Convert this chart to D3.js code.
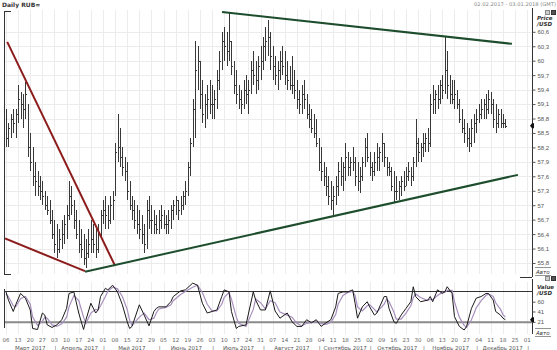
<!DOCTYPE html>
<html>
<head>
<meta charset="utf-8">
<script src="https://cdn.jsdelivr.net/npm/d3@7"></script>
<style>
  body { margin: 0; background: #fff; }
  svg { display: block; font-family: "DejaVu Sans", sans-serif; }
</style>
</head>
<body>
<svg id="chart" width="557" height="350"></svg>
<script>
// daily bars, 6 Mar 2017 .. 19 Dec 2017 (trading days)
const highs = [
  59.0,58.7,58.9,59.0,59.0, 59.5,59.35,59.3,59.55,59.1, 58.5,58.2,57.9,57.7,57.6, 57.5,57.3,57.2,57.1,56.9,
  56.7,56.6,56.5,56.7,56.8, 57.0,57.5,57.4,57.1,56.9, 56.7,56.5,56.4,56.3,56.5, 56.7,56.6,56.5,56.6,56.9,
  57.1,57.2,57.0,57.2,57.3, 58.3,58.9,58.6,58.2,58.0, 57.9,57.5,57.2,57.1,57.0, 56.9,56.8,56.6,57.1,57.2,
  57.0,56.9,56.8,56.9,57.0, 56.9,56.8,56.9,57.0,57.1, 57.2,57.1,57.2,57.3,57.5, 57.9,58.4,59.2,60.4,60.3,
  60.0,59.6,59.3,59.5,59.6, 59.5,59.4,59.8,60.2,60.6, 60.7,60.6,61.0,60.4,60.0, 59.8,59.5,59.4,59.6,59.7,
  59.6,60.0,60.2,60.0,60.1, 60.3,60.5,60.7,60.85,60.6, 60.3,60.1,60.0,60.2,60.3, 60.2,60.0,59.9,60.1,59.8,
  59.6,59.4,59.5,59.6,59.3, 59.1,59.0,58.9,58.8,58.4, 58.2,57.9,57.8,57.6,57.5, 57.4,57.6,57.9,58.0,57.9,
  58.3,58.1,58.0,58.2,58.0, 57.9,57.8,58.0,58.4,58.5, 58.1,57.9,58.1,58.3,58.2, 58.5,58.3,58.0,57.9,57.8,
  57.7,57.6,57.5,57.6,57.7, 57.8,57.9,57.8,58.0,58.8, 58.4,58.3,58.5,58.5,58.6, 59.3,59.5,59.4,59.5,59.6,
  59.7,60.5,60.2,59.7,59.6, 59.6,59.4,59.2,59.0,58.8, 58.7,58.6,58.8,58.9,59.0, 59.1,59.2,59.2,59.3,59.4,
  59.35,59.2,59.1,59.0,59.0, 58.9,58.8
];
const lows = [
  58.2,58.2,58.4,58.5,58.4, 58.7,58.8,58.6,58.8,58.0, 57.7,57.4,57.2,57.2,57.1, 57.0,56.9,56.8,56.6,56.3,
  56.0,55.9,56.0,56.1,56.2, 56.3,56.7,56.8,56.5,56.3, 56.0,55.9,55.75,55.7,55.9, 56.0,56.0,55.9,56.0,56.3,
  56.6,56.5,56.5,56.6,56.7, 57.2,57.9,57.8,57.6,57.5, 57.1,56.9,56.7,56.5,56.4, 56.3,56.2,56.0,56.1,56.5,
  56.4,56.4,56.4,56.4,56.5, 56.5,56.4,56.4,56.5,56.7, 56.8,56.7,56.8,56.9,57.0, 57.2,57.6,58.2,58.4,59.4,
  59.0,58.7,58.6,58.8,58.9, 58.8,58.8,59.0,59.4,59.8, 60.0,59.9,60.0,59.7,59.3, 59.1,59.0,58.9,59.0,59.1,
  58.9,59.3,59.5,59.3,59.4, 59.6,59.8,60.0,60.1,59.8, 59.6,59.5,59.4,59.6,59.7, 59.5,59.4,59.4,59.3,59.2,
  59.0,58.9,58.9,59.0,58.8, 58.6,58.5,58.4,58.2,57.7, 57.5,57.4,57.2,57.0,56.9, 56.8,57.0,57.2,57.4,57.3,
  57.5,57.6,57.6,57.7,57.4, 57.3,57.25,57.5,57.8,57.9, 57.6,57.5,57.6,57.7,57.7, 57.9,57.8,57.6,57.6,57.3,
  57.05,57.1,57.1,57.2,57.3, 57.4,57.5,57.4,57.5,57.8, 57.9,57.9,58.0,58.1,58.1, 58.2,58.9,58.9,59.0,59.1,
  59.2,59.3,59.2,59.1,59.1, 59.0,59.0,58.7,58.5,58.3, 58.2,58.1,58.2,58.3,58.5, 58.7,58.8,58.8,58.8,58.9,
  58.9,58.6,58.5,58.6,58.6, 58.6,58.6
];
const closes = [
  58.4,58.6,58.8,58.7,58.9, 59.2,59.1,59.0,59.3,58.2, 57.9,57.6,57.5,57.4,57.3, 57.2,57.0,56.9,56.7,56.4,
  56.2,56.1,56.3,56.4,56.6, 56.8,57.2,57.0,56.7,56.4, 56.2,56.1,55.9,56.0,56.2, 56.3,56.2,56.1,56.4,56.8,
  56.9,56.8,56.7,57.0,57.1, 58.1,58.2,58.0,57.8,57.7, 57.3,57.0,56.9,56.7,56.6, 56.5,56.4,56.2,56.9,56.7,
  56.7,56.6,56.5,56.7,56.8, 56.6,56.6,56.7,56.9,57.0, 57.1,56.9,57.0,57.2,57.3, 57.8,58.3,59.0,59.8,60.0,
  59.3,58.9,59.1,59.2,59.1, 59.1,59.2,59.6,60.0,60.4, 60.3,60.2,60.4,59.9,59.5, 59.3,59.2,59.1,59.4,59.3,
  59.4,59.8,59.7,59.6,59.9, 60.0,60.3,60.4,60.5,60.1, 59.9,59.7,59.8,60.0,59.9, 59.7,59.6,59.5,59.5,59.4,
  59.2,59.1,59.3,59.2,58.9, 58.8,58.6,58.5,58.3,57.9, 57.7,57.6,57.4,57.2,57.1, 57.2,57.4,57.7,57.6,57.8,
  58.0,57.8,57.9,57.9,57.6, 57.5,57.6,57.9,58.2,58.0, 57.8,57.7,57.9,58.0,58.1, 58.3,58.0,57.8,57.7,57.4,
  57.3,57.3,57.4,57.5,57.4, 57.6,57.7,57.6,57.9,58.3, 58.1,58.2,58.3,58.4,58.3, 59.1,59.2,59.3,59.2,59.5,
  59.4,59.8,59.5,59.3,59.2, 59.3,59.1,58.8,58.6,58.5, 58.4,58.3,58.6,58.7,58.8, 58.9,59.0,59.1,59.0,59.2,
  59.1,58.8,58.7,58.9,58.7, 58.7,58.65
];

// stochastic oscillator, read at the turning points (trading-day index, value)
const stochIdx = [0,1,3,4,6,8,10,11,13,15,16,17,19,21,23,25,26,28,30,32,33,35,37,38,39,41,42,44,46,48,
  50,51,52,55,57,59,61,62,63,66,68,69,72,74,77,79,81,83,85,87,89,90,92,93,95,96,99,102,103,105,
  107,109,111,113,116,118,120,122,124,126,128,130,132,134,136,137,139,141,143,144,145,147,149,150,152,153,156,157,158,160,
  161,163,165,167,168,169,171,174,175,176,178,180,181,182,184,185,187,189,190,192,194,196,198,199,201,202,204,205,206];
const stochK = [79,63,41,54,76,67,44,8,6,38,34,15,10,15,25,47,76,79,38,6,25,57,38,44,70,86,83,92,79,54,
  21,8,12,54,34,13,41,47,50,50,60,70,81,83,96,92,57,38,41,44,70,83,79,41,8,12,15,79,63,44,
  44,81,42,28,38,21,12,12,25,19,25,12,19,25,50,76,79,79,83,57,28,50,60,50,34,38,70,70,47,21,
  18,34,47,60,89,70,60,63,70,60,83,76,79,89,76,31,12,5,12,47,67,70,76,76,63,41,34,28,25];
const stochD = [75,70,52,50,66,70,55,30,14,22,30,28,15,12,17,30,50,72,62,30,18,38,45,44,52,70,80,88,85,70,
  45,24,14,30,38,25,28,38,46,49,54,62,74,80,88,92,78,55,42,42,55,68,78,65,30,18,12,45,65,58,
  46,62,58,40,34,30,18,13,18,20,22,18,16,20,35,55,72,78,80,72,50,42,52,54,45,40,55,65,60,40,
  26,26,38,52,68,75,68,62,65,64,72,78,78,82,82,60,30,14,10,25,48,62,72,75,70,58,45,35,30];

// axis ticks
const priceTicks = [55.8,56.1,56.4,56.7,57,57.3,57.6,57.9,58.2,58.5,58.8,59.1,59.4,59.7,60,60.3,60.6];
const priceTickLabels = ['55,8','56,1','56,4','56,7','57','57,3','57,6','57,9','58,2','58,5','58,8','59,1','59,4','59,7','60','60,3','60,6'];
const stochTicks = [60,41,21];
const dayLabels = ['06','13','20','27','03','10','17','24','01','08','15','22','29','05','12','19','26','03','10','17','24','31',
  '07','14','21','28','04','11','18','25','02','09','16','23','30','06','13','20','27','04','11','18','25','01'];
const monthLabels = ['Март 2017','Апрель 2017','Май 2017','Июнь 2017','Июль 2017','Август 2017','Сентябрь 2017','Октябрь 2017','Ноябрь 2017','Декабрь 2017'];
const monthStarts = [0,20,40,63,85,106,129,150,172,194,215];

// hand drawn trend lines: [index, price]
const redSteep = [[0.5,60.39],[45,55.74]];
const redFlat = [[-0.4,56.31],[32.6,55.63]];
const greenLow = [[32.6,55.62],[211.2,57.63]];
const greenHigh = [[89.1,61.01],[208.7,60.35]];

const svg = d3.select('#chart');
const left = 5, right = 532;
const main = { top: 10, bottom: 274 };
const osc = { top: 282, bottom: 334 };

const x = d3.scaleLinear().domain([0, 215]).range([6, 527.2]);
const y = d3.scaleLinear().domain([55.8, 60.6]).range([263, 31.8]);
const yOsc = d3.scaleLinear().domain([0, 100]).range([332.6, 281.1]);
const weekIdx = dayLabels.map((d, i) => i * 5);

const defs = svg.append('defs');
defs.append('clipPath').attr('id', 'clipMain').append('rect')
  .attr('x', left).attr('y', main.top).attr('width', right - left).attr('height', main.bottom - main.top);
defs.append('clipPath').attr('id', 'clipOsc').append('rect')
  .attr('x', left).attr('y', osc.top).attr('width', right - left).attr('height', osc.bottom - osc.top);

// grid
const grid = svg.append('g').attr('stroke', '#ececec').attr('stroke-width', 1).attr('shape-rendering', 'crispEdges');
grid.selectAll('.vg').data(weekIdx).enter().append('line')
  .attr('x1', d => Math.round(x(d)) + 0.5).attr('x2', d => Math.round(x(d)) + 0.5)
  .attr('y1', main.top).attr('y2', main.bottom);
grid.selectAll('.vo').data(weekIdx).enter().append('line')
  .attr('x1', d => Math.round(x(d)) + 0.5).attr('x2', d => Math.round(x(d)) + 0.5)
  .attr('y1', osc.top).attr('y2', osc.bottom);
grid.selectAll('.hg').data(priceTicks).enter().append('line')
  .attr('x1', left).attr('x2', right)
  .attr('y1', d => Math.round(y(d)) + 0.5).attr('y2', d => Math.round(y(d)) + 0.5);

// price bars
const bars = svg.append('g').attr('clip-path', 'url(#clipMain)')
  .attr('stroke', '#383838').attr('stroke-width', 1).attr('shape-rendering', 'crispEdges');
closes.forEach((c, i) => {
  const bx = Math.round(x(i)) + 0.5;
  bars.append('line').attr('x1', bx).attr('x2', bx).attr('y1', y(highs[i])).attr('y2', y(lows[i]));
  bars.append('line').attr('x1', bx).attr('x2', bx + 1.5).attr('y1', Math.round(y(c)) + 0.5).attr('y2', Math.round(y(c)) + 0.5);
});

// trend lines
const trend = svg.append('g').attr('clip-path', 'url(#clipMain)').attr('fill', 'none').attr('stroke-width', 2);
const tl = d3.line().x(d => x(d[0])).y(d => y(d[1]));
trend.append('path').attr('d', tl(redSteep)).attr('stroke', '#8c1c1c');
trend.append('path').attr('d', tl(redFlat)).attr('stroke', '#8c1c1c');
trend.append('path').attr('d', tl(greenLow)).attr('stroke', '#1d4d2c');
trend.append('path').attr('d', tl(greenHigh)).attr('stroke', '#1d4d2c');

// panel borders
const frame = svg.append('g').attr('stroke', '#333').attr('stroke-width', 1).attr('shape-rendering', 'crispEdges');
frame.append('line').attr('x1', 4.5).attr('x2', 4.5).attr('y1', 11).attr('y2', main.bottom + 1);
frame.append('line').attr('x1', 4.5).attr('x2', 11).attr('y1', 11.5).attr('y2', 11.5);
frame.append('line').attr('x1', 4.5).attr('x2', 11).attr('y1', main.bottom + 0.5).attr('y2', main.bottom + 0.5);
frame.append('line').attr('x1', right + 0.5).attr('x2', right + 0.5).attr('y1', 8).attr('y2', main.bottom + 3);
frame.append('line').attr('x1', 520).attr('x2', right).attr('y1', main.bottom + 3.5).attr('y2', main.bottom + 3.5);
frame.append('line').attr('x1', 4.5).attr('x2', 4.5).attr('y1', 289).attr('y2', 328);
frame.append('line').attr('x1', right + 0.5).attr('x2', right + 0.5).attr('y1', 279).attr('y2', osc.bottom);

// price axis
const yAxis = svg.append('g')
  .attr('transform', `translate(${right + 0.5},0)`)
  .call(d3.axisRight(y).tickValues(priceTicks).tickSize(3).tickPadding(2)
    .tickFormat((d, i) => priceTickLabels[i]));
yAxis.select('.domain').remove();
yAxis.selectAll('line').attr('stroke', '#555');
yAxis.selectAll('text').attr('font-size', 6).attr('fill', '#555');

// oscillator
svg.append('line').attr('x1', left).attr('x2', right).attr('y1', Math.round(yOsc(80)) + 0.5).attr('y2', Math.round(yOsc(80)) + 0.5)
  .attr('stroke', '#333').attr('stroke-width', 1);
svg.append('line').attr('x1', left).attr('x2', right).attr('y1', yOsc(20)).attr('y2', yOsc(20))
  .attr('stroke', '#8a8a8a').attr('stroke-width', 2);

const oscG = svg.append('g').attr('clip-path', 'url(#clipOsc)').attr('fill', 'none');
const sl = d3.line().x(d => x(d[0])).y(d => yOsc(d[1]));
oscG.append('path').attr('d', sl(stochIdx.map((d, i) => [d, stochD[i]])))
  .attr('stroke', '#a78fbd').attr('stroke-width', 1.2);
oscG.append('path').attr('d', sl(stochIdx.map((d, i) => [d, stochK[i]])))
  .attr('stroke', '#1a1a1a').attr('stroke-width', 1);

const oAxis = svg.append('g')
  .attr('transform', `translate(${right + 0.5},0)`)
  .call(d3.axisRight(yOsc).tickValues(stochTicks).tickSize(3).tickPadding(2));
oAxis.select('.domain').remove();
oAxis.selectAll('line').attr('stroke', '#555');
oAxis.selectAll('text').attr('font-size', 6).attr('fill', '#555');

// last value markers
const marker = (px, py) => svg.append('path')
  .attr('d', `M${px - 2},${py} l2,-2.5 h2 v5 h-2 z`).attr('fill', '#111');
marker(right, y(closes[closes.length - 1]));
marker(right, yOsc(stochK[stochK.length - 1]));

// date axis
svg.append('g').selectAll('text').data(dayLabels).enter().append('text')
  .attr('x', (d, i) => x(weekIdx[i])).attr('y', 342)
  .attr('text-anchor', 'middle').attr('font-size', 5.5).attr('fill', '#666')
  .text(d => d);
const monthG = svg.append('g').attr('font-size', 5.5).attr('fill', '#555');
monthG.selectAll('.m').data(monthLabels).enter().append('text')
  .attr('x', (d, i) => ((i === 0 ? left : x(monthStarts[i]) + 1) + x(monthStarts[i + 1]) + 1) / 2)
  .attr('y', 349.5).attr('text-anchor', 'middle').text(d => d);
monthG.selectAll('.s').data(monthStarts.slice(1)).enter().append('text')
  .attr('x', d => x(d) + 1).attr('y', 349.5).attr('text-anchor', 'middle').text('|');

// header texts and labels
svg.append('text').attr('x', 2).attr('y', 6.5).attr('font-size', 6).attr('font-weight', 'bold').attr('fill', '#333').text('Daily RUB=');
svg.append('text').attr('x', 556).attr('y', 5.5).attr('font-size', 5.2).attr('text-anchor', 'end').attr('fill', '#888')
  .text('02.02.2017 - 03.01.2018 (GMT)');

const sideLabel = (ty, t) => svg.append('text').attr('x', 537).attr('y', ty)
  .attr('font-size', 5.5).attr('font-style', 'italic').attr('font-weight', 'bold').attr('fill', '#333').text(t);
sideLabel(19.5, 'Price');
sideLabel(26, '/USD');
sideLabel(288.5, 'Value');
sideLabel(295, '/USD');

const icons = (iy) => {
  svg.append('rect').attr('x', 545.5).attr('y', iy + 0.5).attr('width', 4).attr('height', 4)
    .attr('fill', '#ccc').attr('stroke', '#888').attr('stroke-width', 1);
  svg.append('rect').attr('x', 551.5).attr('y', iy + 0.5).attr('width', 4).attr('height', 4)
    .attr('fill', '#555').attr('stroke', '#333').attr('stroke-width', 1);
};
icons(10);
icons(276);

const autoLabel = (ty) => {
  svg.append('text').attr('x', 536).attr('y', ty).attr('font-size', 5.5).attr('font-style', 'italic')
    .attr('fill', '#333').text('Авто');
  svg.append('line').attr('x1', 535).attr('x2', 551).attr('y1', ty - 6.5).attr('y2', ty - 6.5)
    .attr('stroke', '#666').attr('stroke-width', 0.7);
  svg.append('line').attr('x1', 535).attr('x2', 551).attr('y1', ty + 1.5).attr('y2', ty + 1.5)
    .attr('stroke', '#666').attr('stroke-width', 0.7);
};
autoLabel(274);
autoLabel(335);
</script>
</body>
</html>
